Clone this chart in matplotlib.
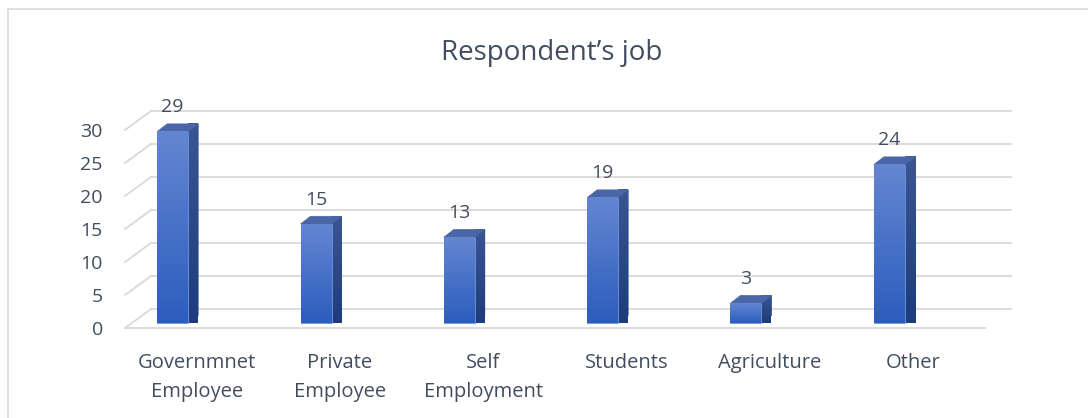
"""
Respondent's job - pseudo 3D column chart (excel style)
"""

import matplotlib.pyplot as plt
from matplotlib.patches import Polygon, Rectangle
from matplotlib.colors import LinearSegmentedColormap
import numpy as np

# data
categories = ['Governmnet\nEmployee', 'Private\nEmployee', 'Self\nEmployment',
              'Students', 'Agriculture', 'Other']
counts = [29, 15, 13, 19, 3, 24]
yticks = [0, 5, 10, 15, 20, 25, 30]

txt_col = '#414d5f'
grid_col = '#d9d9d9'

plt.rcParams['font.family'] = ['Open Sans', 'DejaVu Sans']

fig = plt.figure(figsize=(10.88, 4.18), dpi=100)
W, H = 1088, 418

# axes = front plane of the floor / wall
ax = fig.add_axes([125 / W, 90 / H, 860 / W, 198 / H])

# pixel -> data unit helpers
px_x = 6.0 / 860
px_y = 30.0 / 198

# back wall offset, bar plane offset, bar depth (all in pixels)
back = (26 * px_x, 19 * px_y)
plane = (6.5 * px_x, 5 * px_y)
depth = (10 * px_x, 7.7 * px_y)
bw = 31 * px_x
shift = -30.5 * px_x

# back wall gridlines + diagonal ticks on the left
for v in yticks:
    ax.plot([-0.5 + back[0], 5.5 + back[0]], [v + back[1], v + back[1]],
            color=grid_col, lw=1.3, clip_on=False, zorder=1)
    ax.plot([-0.5, -0.5 + back[0]], [v, v + back[1]],
            color=grid_col, lw=1.3, clip_on=False, zorder=1)

# front floor edge
ax.plot([-0.5, 5.5], [0, 0], color=grid_col, lw=1.3, clip_on=False, zorder=1)

xs = np.arange(len(categories))
left = xs + shift + plane[0] - bw / 2
base = plane[1]

front = ax.bar(left, counts, width=bw, bottom=base, align='edge',
               color='#3f6fcc', edgecolor='#7096dc', lw=0.6, zorder=3, clip_on=False)

front_cm = LinearSegmentedColormap.from_list('f', ['#2c5dbd', '#6486d1'])
side_cm = LinearSegmentedColormap.from_list('s', ['#1e3c7c', '#3a5592'])
grad = np.linspace(0, 1, 100).reshape(-1, 1)
for i, (rect, v) in enumerate(zip(front, counts)):
    l = left[i]
    r = l + bw
    # gradient on front face
    img = ax.imshow(grad, cmap=front_cm, extent=[l, r, base, base + v], origin='lower',
                    aspect='auto', zorder=3.5, clip_on=False)
    img.set_clip_path(rect)
    # side face
    side = Polygon([(r, base), (r, base + v), (r + depth[0], base + v + depth[1]),
                    (r + depth[0], base + depth[1])], closed=True,
                   facecolor='#2a4a8c', edgecolor='#2a4a8c', lw=0.5, zorder=2.9, clip_on=False)
    ax.add_patch(side)
    img2 = ax.imshow(grad, cmap=side_cm, extent=[r, r + depth[0], base, base + v + depth[1]],
                     origin='lower', aspect='auto', zorder=2.95, clip_on=False)
    img2.set_clip_path(side)
    # top face
    top = Polygon([(l, base + v), (r, base + v), (r + depth[0], base + v + depth[1]),
                   (l + depth[0], base + v + depth[1])], closed=True,
                  facecolor='#4a66a6', edgecolor='#4a66a6', lw=0.5, zorder=3.2, clip_on=False)
    ax.add_patch(top)
    # value label
    ax.annotate(str(v), (l + bw / 2, base + v), xytext=(0, 17.5), textcoords='offset points',
                ha='center', va='center', fontsize=14, color=txt_col)

ax.set_xlim(-0.5, 5.5)
ax.set_ylim(0, 30)

ax.set_xticks(xs)
ax.set_xticklabels(categories, fontsize=14.5, color=txt_col, linespacing=1.6)
ax.set_yticks(yticks)
ax.set_yticklabels([str(t) for t in yticks], fontsize=14, color=txt_col)
ax.tick_params(axis='x', length=0, pad=18)
ax.tick_params(axis='y', length=0, pad=16)
for s in ax.spines.values():
    s.set_visible(False)
ax.patch.set_alpha(0)

fig.text(552 / W, 1 - 53 / H, 'Respondent\u2019s job', ha='center', va='center',
         fontsize=20, color=txt_col)

# chart area border
fig.patches.append(Rectangle((8 / W, -0.1), 1.2, (418 - 9) / H + 0.1,
                             transform=fig.transFigure, fill=False,
                             edgecolor=grid_col, lw=1.2))

plt.savefig('out.png', dpi=100)
plt.close()
